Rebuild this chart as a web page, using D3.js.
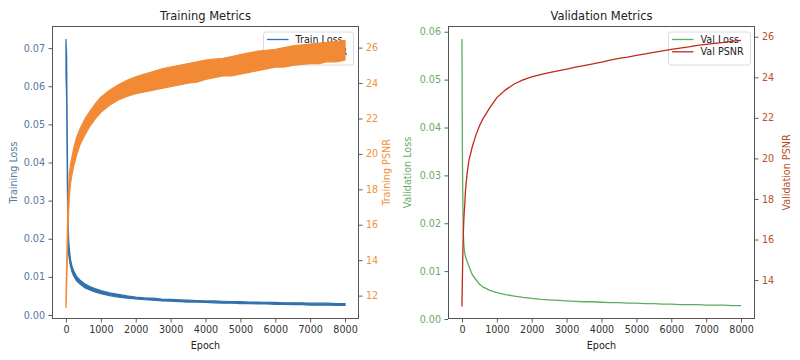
<!DOCTYPE html>
<html><head><meta charset="utf-8">
<script src="https://cdn.jsdelivr.net/npm/d3@7"></script>
<style>body{margin:0;background:#fff}text{font-family:"DejaVu Sans",sans-serif}</style>
</head><body><svg id="c" width="800" height="360"></svg>
<script>
// ---------- DATA ----------
const xTicks = [0,1000,2000,3000,4000,5000,6000,7000,8000];
const trainLossTicks = [0,0.01,0.02,0.03,0.04,0.05,0.06,0.07];
const trainPsnrTicks = [12,14,16,18,20,22,24,26];
const valLossTicks = [0,0.01,0.02,0.03,0.04,0.05,0.06];
const valPsnrTicks = [14,16,18,20,22,24,26];

// training curves are very noisy: stored as lower / upper envelope of the band
const trainEpochs  = [0,10,20,30,40,50,60,80,100,130,170,220,300,400,550,700,850,1000,1250,1500,1750,2000,2250,2500,2750,3000,3250,3500,3750,4000,4250,4500,4750,5000,5250,5500,5750,6000,6250,6500,6750,7000,7250,7500,7750,8000];
const trainLossLo  = [0.0630,0.0600,0.0560,0.0440,0.0330,0.0250,0.0190,0.0158,0.0143,0.0128,0.0114,0.0102,0.0090,0.0081,0.0071,0.0065,0.0060,0.0056,0.0051,0.0047,0.0044,0.0042,0.0040,0.0039,0.0037,0.0036,0.0035,0.0034,0.0034,0.0033,0.0032,0.0031,0.0031,0.0030,0.0030,0.0029,0.0029,0.0028,0.0028,0.0027,0.0027,0.0026,0.0026,0.0026,0.0025,0.0025];
const trainLossHi  = [0.0724,0.0700,0.0680,0.0560,0.0450,0.0340,0.0260,0.0195,0.0170,0.0146,0.0129,0.0116,0.0102,0.0092,0.0081,0.0074,0.0069,0.0064,0.0058,0.0054,0.0050,0.0047,0.0045,0.0044,0.0042,0.0041,0.0040,0.0039,0.0038,0.0037,0.0037,0.0036,0.0035,0.0035,0.0034,0.0034,0.0033,0.0033,0.0032,0.0032,0.0032,0.0031,0.0031,0.0031,0.0030,0.0030];
const trainPsnrLo  = [11.3,11.8,12.5,13.3,14.2,15.0,15.8,16.9,17.6,18.3,18.8,19.3,19.9,20.5,21.1,21.6,22.0,22.35,22.75,23.05,23.25,23.4,23.5,23.6,23.7,23.8,23.9,24.0,24.05,24.2,24.3,24.4,24.4,24.5,24.6,24.7,24.8,24.9,24.9,25.0,25.05,25.1,25.1,25.2,25.2,25.3];
const trainPsnrHi  = [11.8,12.8,13.8,14.8,15.8,16.7,17.4,18.3,18.9,19.4,19.8,20.3,20.9,21.4,22.0,22.45,22.85,23.2,23.6,23.9,24.15,24.35,24.5,24.65,24.8,24.9,25.0,25.1,25.2,25.3,25.35,25.4,25.5,25.6,25.7,25.8,25.85,25.9,26.0,26.1,26.15,26.2,26.25,26.3,26.35,26.4];

const valEpochs = [0,5,10,20,30,40,50,60,80,100,150,200,300,400,500,600,800,1000,1250,1500,1750,2000,2250,2500,2750,3000,3250,3500,3750,4000,4250,4500,4750,5000,5250,5500,5750,6000,6250,6500,6750,7000,7250,7500,7750,8000];
const valLoss   = [0.0585,0.0480,0.0380,0.0280,0.0220,0.0180,0.0160,0.0150,0.0138,0.0130,0.0120,0.0110,0.0092,0.0082,0.0073,0.0067,0.0060,0.0055,0.0051,0.0048,0.0045,0.0043,0.0041,0.0040,0.0039,0.0038,0.0037,0.0036,0.0036,0.0035,0.0034,0.0034,0.0033,0.0033,0.0032,0.0032,0.0031,0.0031,0.0030,0.0030,0.0030,0.0029,0.0029,0.0029,0.0028,0.0028];
const valPsnr   = [12.7,13.3,13.8,14.8,15.7,16.3,16.8,17.2,17.7,18.4,19.3,19.9,20.6,21.15,21.6,21.95,22.5,23.0,23.38,23.67,23.87,24.02,24.13,24.23,24.32,24.4,24.5,24.58,24.66,24.75,24.85,24.93,25.0,25.08,25.15,25.23,25.3,25.38,25.44,25.5,25.57,25.62,25.67,25.72,25.78,25.82];

// ---------- DRAWING ----------
const svg = d3.select("#c");
const FS = 9.6;

function panel(o) {
  const g = svg.append("g");
  const x = d3.scaleLinear().domain([-400, 8400]).range([o.x0, o.x1]);
  const yL = d3.scaleLinear().domain(o.lossDomain).range([o.bottom, o.top]);
  const yR = d3.scaleLinear().domain(o.psnrDomain).range([o.bottom, o.top]);

  // loss series
  if (o.lossLo) {
    const area = d3.area().x((d,i)=>x(o.epochs[i])).y0((d,i)=>yL(o.lossLo[i])).y1((d,i)=>yL(o.lossHi[i]));
    g.append("path").attr("d", area(o.epochs)).attr("fill", o.lossColor).attr("stroke", o.lossColor).attr("stroke-width", 1.2);
  } else {
    const line = d3.line().x((d,i)=>x(o.epochs[i])).y((d,i)=>yL(o.loss[i]));
    g.append("path").attr("d", line(o.epochs)).attr("fill","none").attr("stroke", o.lossColor).attr("stroke-width", 1.3);
  }

  // legend (belongs to the loss axes, drawn under psnr line)
  const lg = g.append("g").attr("transform", `translate(${o.legX},${o.legY})`);
  lg.append("rect").attr("width", o.legW).attr("height", 33).attr("rx", 2.5)
    .attr("fill", "rgba(255,255,255,0.8)").attr("stroke", "#d0d0d0").attr("stroke-width", 0.8);
  o.legItems.forEach((it, i) => {
    const yy = 7.5 + i * 12.3;
    lg.append("line").attr("x1", 3.5).attr("x2", 25).attr("y1", yy).attr("y2", yy).attr("stroke", it.color).attr("stroke-width", 1.3);
    lg.append("text").attr("x", 32).attr("y", yy + 3.4).attr("font-size", FS).attr("fill", "#222").text(it.label);
  });

  // psnr series
  if (o.psnrLo) {
    const area = d3.area().x((d,i)=>x(o.epochs[i])).y0((d,i)=>yR(o.psnrLo[i])).y1((d,i)=>yR(o.psnrHi[i]));
    g.append("path").attr("d", area(o.epochs)).attr("fill", o.psnrColor).attr("stroke", o.psnrColor).attr("stroke-width", 1.2);
  } else {
    const line = d3.line().x((d,i)=>x(o.epochs[i])).y((d,i)=>yR(o.psnr[i]));
    g.append("path").attr("d", line(o.epochs)).attr("fill","none").attr("stroke", o.psnrColor).attr("stroke-width", 1.3);
  }

  // frame
  g.append("rect").attr("x", o.x0 + 0.5).attr("y", o.top + 0.5).attr("width", o.x1 - o.x0 - 1).attr("height", o.bottom - o.top - 1)
    .attr("fill", "none").attr("stroke", "#555").attr("stroke-width", 1);

  function styleAxis(sel, col) {
    sel.select(".domain").remove();
    sel.selectAll(".tick line").attr("stroke", "#333").attr("stroke-width", 0.8);
    sel.selectAll(".tick text").attr("font-size", FS).attr("fill", col).attr("font-family", '"DejaVu Sans", sans-serif');
  }
  const ax = g.append("g").attr("transform", `translate(0,${o.bottom})`)
    .call(d3.axisBottom(x).tickValues(xTicks).tickSize(3.5).tickPadding(3.5).tickFormat(d3.format("d")));
  styleAxis(ax, "#333");
  const al = g.append("g").attr("transform", `translate(${o.x0},0)`)
    .call(d3.axisLeft(yL).tickValues(o.lossTicks).tickSize(3.5).tickPadding(3.5).tickFormat(d3.format(".2f")));
  styleAxis(al, o.lossTick);
  const ar = g.append("g").attr("transform", `translate(${o.x1},0)`)
    .call(d3.axisRight(yR).tickValues(o.psnrTicks).tickSize(3.5).tickPadding(3.5).tickFormat(d3.format("d")));
  styleAxis(ar, o.psnrTick);

  const cx = (o.x0 + o.x1) / 2, cy = (o.top + o.bottom) / 2;
  g.append("text").attr("x", cx).attr("y", 20).attr("text-anchor", "middle").attr("font-size", 11.5).attr("fill", "#222").text(o.title);
  g.append("text").attr("x", cx).attr("y", 349).attr("text-anchor", "middle").attr("font-size", FS).attr("fill", "#222").text("Epoch");
  g.append("text").attr("transform", `translate(${o.lLabX},${cy}) rotate(-90)`).attr("text-anchor", "middle").attr("font-size", FS).attr("fill", o.lossTick).text(o.lossLabel);
  g.append("text").attr("transform", `translate(${o.rLabX},${cy}) rotate(-90)`).attr("text-anchor", "middle").attr("font-size", FS).attr("fill", o.psnrTick).text(o.psnrLabel);
}

panel({
  x0: 52, x1: 359, top: 26, bottom: 319,
  epochs: trainEpochs, lossLo: trainLossLo, lossHi: trainLossHi, psnrLo: trainPsnrLo, psnrHi: trainPsnrHi,
  lossDomain: [-0.00105, 0.0758], psnrDomain: [10.68, 27.22],
  lossTicks: trainLossTicks, psnrTicks: trainPsnrTicks,
  lossColor: "#3271ad", psnrColor: "#f28a35", lossTick: "#55799f", psnrTick: "#f0923a",
  title: "Training Metrics", lossLabel: "Training Loss", psnrLabel: "Training PSNR",
  lLabX: 17, rLabX: 390,
  legX: 263.5, legY: 32, legW: 90,
  legItems: [{label: "Train Loss", color: "#3271ad"}, {label: "Train PSNR", color: "#f28a35"}]
});

panel({
  x0: 448, x1: 755, top: 26, bottom: 319,
  epochs: valEpochs, loss: valLoss, psnr: valPsnr,
  lossDomain: [0, 0.0612], psnrDomain: [12.08, 26.53],
  lossTicks: valLossTicks, psnrTicks: valPsnrTicks,
  lossColor: "#5cae5c", psnrColor: "#c12a18", lossTick: "#6aa96a", psnrTick: "#b5502a",
  title: "Validation Metrics", lossLabel: "Validation Loss", psnrLabel: "Validation PSNR",
  lLabX: 411, rLabX: 790,
  legX: 668.5, legY: 32, legW: 82,
  legItems: [{label: "Val Loss", color: "#5cae5c"}, {label: "Val PSNR", color: "#c12a18"}]
});
</script></body></html>
